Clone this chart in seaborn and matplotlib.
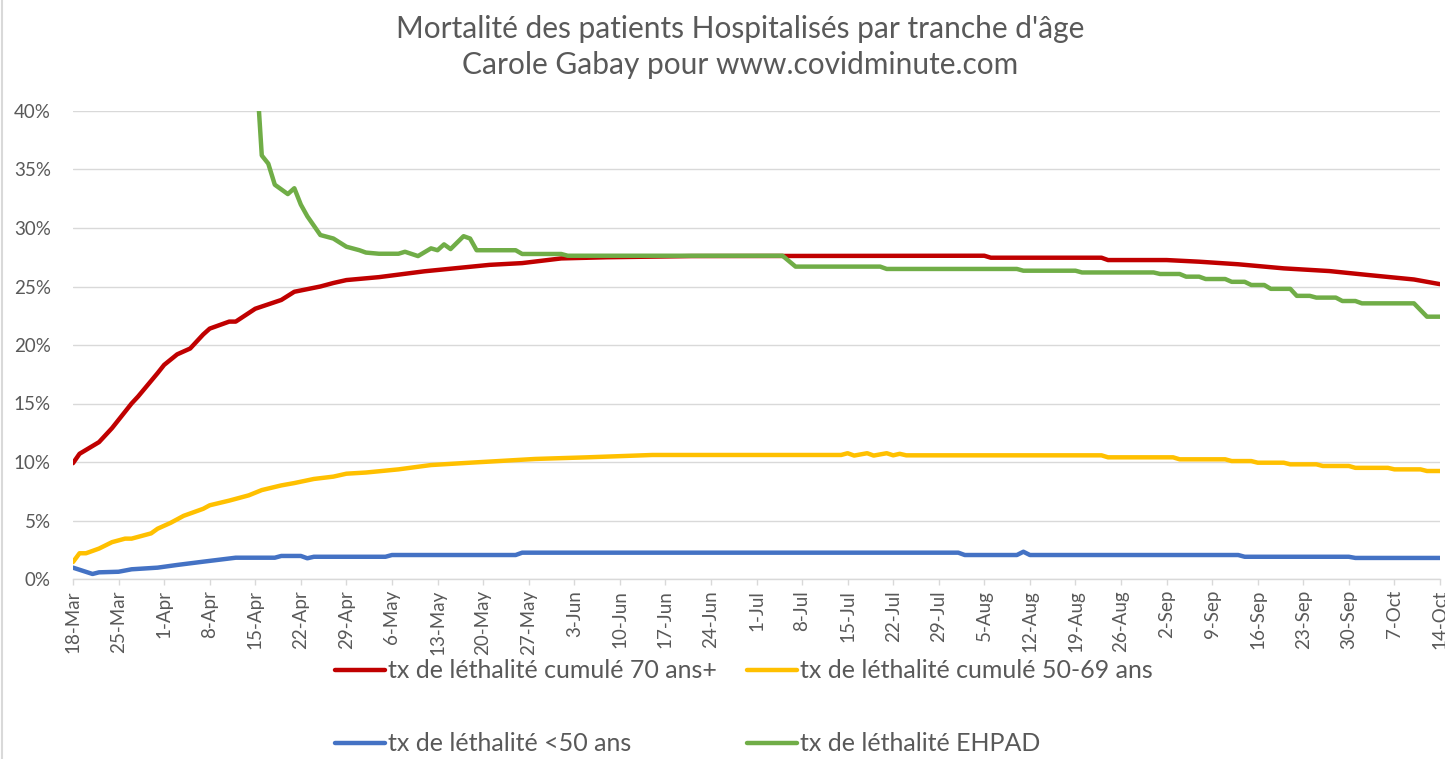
import numpy as np
import pandas as pd
import seaborn as sns
import matplotlib.pyplot as plt
from matplotlib.ticker import FuncFormatter, MultipleLocator
from matplotlib.lines import Line2D


# values, in %, dates are 2020 (MM-DD)
red_dates = ["03-18", "03-19", "03-22", "03-24", "03-27", "03-28", "03-31", "04-01", "04-03",
             "04-05", "04-07", "04-08", "04-09", "04-11", "04-12", "04-15", "04-19", "04-21",
             "04-25", "04-27", "04-29", "05-02", "05-04", "05-11", "05-21", "05-26", "06-01",
             "06-08", "06-21", "08-05", "08-06", "08-23", "08-24", "09-02", "09-07", "09-13",
             "09-20", "09-27", "10-03", "10-10", "10-14"]
red_vals = [9.9, 10.7, 11.7, 12.9, 15.0, 15.6, 17.6, 18.3, 19.2,
            19.7, 20.9, 21.4, 21.6, 22.0, 22.0, 23.1, 23.85, 24.55,
            25.0, 25.3, 25.55, 25.7, 25.8, 26.3, 26.85, 27.0, 27.4,
            27.5, 27.6, 27.63, 27.46, 27.46, 27.26, 27.26, 27.12, 26.9,
            26.55, 26.32, 25.98, 25.6, 25.2]

yellow_dates = ["03-18", "03-19", "03-20", "03-22", "03-24", "03-26", "03-27", "03-30", "03-31",
                "04-02", "04-04", "04-07", "04-08", "04-11", "04-14", "04-16", "04-19", "04-21",
                "04-24", "04-27", "04-29", "05-02", "05-07", "05-12", "05-18", "05-23", "05-28",
                "06-05", "06-15", "07-14", "07-15", "07-16", "07-18", "07-19", "07-21", "07-22",
                "07-23", "07-24", "08-23", "08-24", "09-03", "09-04", "09-11", "09-12", "09-15",
                "09-16", "09-20", "09-21", "09-25", "09-26", "09-30", "10-01", "10-06", "10-07",
                "10-11", "10-12", "10-14"]
yellow_vals = [1.45, 2.2, 2.2, 2.6, 3.15, 3.45, 3.45, 3.9, 4.3,
               4.8, 5.4, 6.0, 6.3, 6.7, 7.15, 7.6, 8.0, 8.2,
               8.55, 8.75, 9.0, 9.1, 9.37, 9.74, 9.94, 10.1, 10.26,
               10.4, 10.6, 10.6, 10.75, 10.55, 10.75, 10.55, 10.75, 10.57,
               10.7, 10.57, 10.57, 10.4, 10.4, 10.23, 10.23, 10.08, 10.08,
               9.94, 9.94, 9.8, 9.8, 9.66, 9.66, 9.5, 9.5, 9.37,
               9.37, 9.23, 9.23]

blue_dates = ["03-18", "03-21", "03-22", "03-25", "03-27", "03-31", "04-03", "04-07", "04-12",
              "04-18", "04-19", "04-22", "04-23", "04-24", "05-05", "05-06", "05-25", "05-26",
              "08-01", "08-02", "08-10", "08-11", "08-12", "09-13", "09-14", "09-30", "10-01",
              "10-14"]
blue_vals = [0.97, 0.43, 0.57, 0.62, 0.83, 0.97, 1.2, 1.48, 1.82,
             1.82, 1.97, 1.97, 1.77, 1.9, 1.9, 2.05, 2.05, 2.25,
             2.25, 2.05, 2.05, 2.33, 2.05, 2.05, 1.9, 1.9, 1.8,
             1.8]

green_dates = ["04-15", "04-16", "04-17", "04-18", "04-20", "04-21", "04-22", "04-23", "04-24",
               "04-25", "04-27", "04-29", "05-01", "05-02", "05-04", "05-07", "05-08", "05-10",
               "05-12", "05-13", "05-14", "05-15", "05-17", "05-18", "05-19", "05-25", "05-26",
               "06-01", "06-02", "07-05", "07-07", "07-20", "07-21", "08-10", "08-11", "08-19",
               "08-20", "08-31", "09-01", "09-04", "09-05", "09-07", "09-08", "09-11", "09-12",
               "09-14", "09-15", "09-17", "09-18", "09-21", "09-22", "09-24", "09-25", "09-28",
               "09-29", "10-01", "10-02", "10-10", "10-12", "10-14"]
green_vals = [45.0, 36.2, 35.5, 33.7, 32.9, 33.4, 32.0, 31.0, 30.2,
              29.4, 29.1, 28.4, 28.1, 27.9, 27.8, 27.8, 27.97, 27.6,
              28.26, 28.1, 28.6, 28.2, 29.3, 29.1, 28.1, 28.1, 27.78,
              27.78, 27.63, 27.63, 26.7, 26.7, 26.5, 26.5, 26.35, 26.35,
              26.2, 26.2, 26.07, 26.07, 25.84, 25.84, 25.64, 25.64, 25.4,
              25.4, 25.13, 25.13, 24.8, 24.8, 24.2, 24.2, 24.05, 24.05,
              23.76, 23.76, 23.56, 23.56, 22.42, 22.42]

names = ["tx de léthalité cumulé 70 ans+", "tx de léthalité cumulé 50-69 ans",
         "tx de léthalité <50 ans", "tx de léthalité EHPAD"]
colors = ["#C00000", "#FFC000", "#4472C4", "#70AD47"]

grey = "#595959"
grid = "#D9D9D9"


def to_frame(dates, vals, name):
    return pd.DataFrame({"date": pd.to_datetime(["2020-" + d for d in dates]),
                         "taux": vals, "serie": name})


df = pd.concat([to_frame(red_dates, red_vals, names[0]),
                to_frame(yellow_dates, yellow_vals, names[1]),
                to_frame(blue_dates, blue_vals, names[2]),
                to_frame(green_dates, green_vals, names[3])])

sns.set_theme(style="white")
plt.rcParams['font.family'] = ['Lato', 'DejaVu Sans']

fig = plt.figure(figsize=(14.45, 7.59), dpi=100)
ax = fig.add_axes([73 / 1445, 1 - 579 / 759, (1440 - 73) / 1445, (579 - 111) / 759])

sns.lineplot(data=df, x="date", y="taux", hue="serie", hue_order=names,
             palette=dict(zip(names, colors)), linewidth=3.2, legend=False,
             solid_joinstyle="round", ax=ax)

start, end = pd.Timestamp("2020-03-18"), pd.Timestamp("2020-10-14")
ax.set_xlim(start, end)
ax.set_ylim(0, 40)

ticks = pd.date_range(start, end, freq="7D")
ax.set_xticks(ticks)
ax.set_xticklabels([f"{d.day}-{d:%b}" for d in ticks], rotation=90)
ax.yaxis.set_major_locator(MultipleLocator(5))
ax.yaxis.set_major_formatter(FuncFormatter(lambda v, p: f"{v:.0f}%"))

ax.tick_params(axis="x", colors=grid, labelcolor=grey, labelsize=13.5,
               length=4, width=1, direction="out", pad=4, bottom=True)
ax.tick_params(axis="y", labelcolor=grey, labelsize=13.5, length=0, pad=16)
ax.set_xlabel("")
ax.set_ylabel("")

ax.grid(axis="y", color=grid, linewidth=1)
ax.set_axisbelow(True)
for s in ["top", "right", "left"]:
    ax.spines[s].set_visible(False)
ax.spines["bottom"].set_color(grid)
ax.spines["bottom"].set_linewidth(1)

fig.text(0.512, 0.962, "Mortalité des patients Hospitalisés par tranche d'âge",
         ha="center", va="center", fontsize=21.5, color=grey)
fig.text(0.512, 0.914, "Carole Gabay pour www.covidminute.com",
         ha="center", va="center", fontsize=21.5, color=grey)

# legend: row 1 red / yellow, row 2 blue / green
handles = [Line2D([], [], color=c, linewidth=3.2) for c in colors]
order = [0, 2, 1, 3]
fig.legend([handles[i] for i in order], [names[i] for i in order],
           loc="center", bbox_to_anchor=(0.5145, 0.068), ncol=2, frameon=False,
           fontsize=18, labelcolor=grey, handlelength=2.0, handletextpad=0.12,
           columnspacing=1.2, labelspacing=2.0)

fig.add_artist(Line2D([0.0012, 0.0012], [0, 1], color=grid, linewidth=1.5))

fig.savefig("out.png", dpi=100)
